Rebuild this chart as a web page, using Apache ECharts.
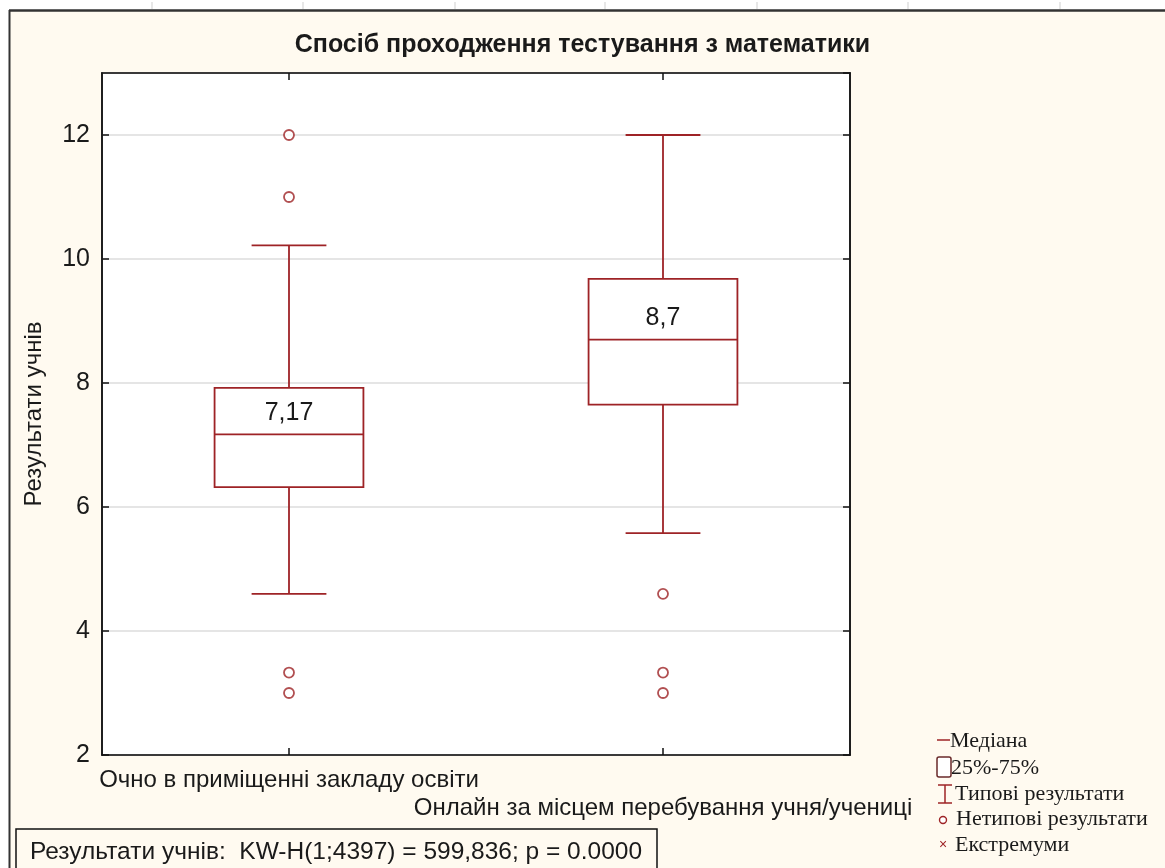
<!DOCTYPE html>
<html>
<head>
<meta charset="utf-8">
<script src="https://cdn.jsdelivr.net/npm/echarts@6/dist/echarts.min.js"></script>
<style>
html,body{margin:0;padding:0;background:#fff;}
#chart{width:1165px;height:868px;}
</style>
</head>
<body>
<div id="chart"></div>
<script>
// ---- data ----
const categories = ['Очно в приміщенні закладу освіти', 'Онлайн за місцем перебування учня/учениці'];
const whiskerLow = [4.6, 5.58];
const q1 = [6.32, 7.65];
const median = [7.17, 8.7];
const q3 = [7.92, 9.68];
const whiskerHigh = [10.22, 12.0];
const outlierCat = [0, 0, 0, 0, 1, 1, 1];
const outlierVal = [12, 11, 3.33, 3, 4.6, 3.33, 3];
const yMin = 2, yMax = 13, yStep = 2;
const titleText = 'Спосіб проходження тестування з математики';
const yName = 'Результати учнів';
const statText = 'Результати учнів:  KW-H(1;4397) = 599,836; p = 0.0000';
const legendLabels = ['Медіана', '25%-75%', 'Типові результати', 'Нетипові результати', 'Екстремуми'];

// ---- styles ----
const RED = '#9E2326';
const TXT = '#1a1a1a';
const CREAM = '#FFFAF0';
const SANS = '"Liberation Sans", Arial, sans-serif';
const SERIF = '"Liberation Serif", "Times New Roman", serif';

const boxData = categories.map((c, i) => [i, whiskerLow[i], q1[i], median[i], q3[i], whiskerHigh[i]]);
const outlierData = outlierCat.map((c, i) => [c, outlierVal[i]]);

const chart = echarts.init(document.getElementById('chart'), null, {renderer: 'canvas'});

// legend graphics
const lx = 937, ly = [741, 768, 794, 819, 845];
const legendGraphics = [];
legendGraphics.push({type: 'line', shape: {x1: lx, y1: ly[0] - 1, x2: lx + 13, y2: ly[0] - 1}, style: {stroke: RED, lineWidth: 1.5}});
legendGraphics.push({type: 'rect', shape: {x: lx, y: ly[1] - 11, width: 14, height: 20, r: 2}, style: {fill: '#fff', stroke: '#6a2a2a', lineWidth: 1.5}});
legendGraphics.push({type: 'line', shape: {x1: lx + 8, y1: ly[2] - 9, x2: lx + 8, y2: ly[2] + 9}, style: {stroke: RED, lineWidth: 1.5}});
legendGraphics.push({type: 'line', shape: {x1: lx + 1, y1: ly[2] - 9, x2: lx + 15, y2: ly[2] - 9}, style: {stroke: RED, lineWidth: 1.5}});
legendGraphics.push({type: 'line', shape: {x1: lx + 1, y1: ly[2] + 9, x2: lx + 15, y2: ly[2] + 9}, style: {stroke: RED, lineWidth: 1.5}});
legendGraphics.push({type: 'circle', shape: {cx: lx + 6, cy: ly[3] + 1, r: 3.5}, style: {fill: '#fff', stroke: RED, lineWidth: 1.4}});
legendGraphics.push({type: 'text', style: {text: '×', x: lx + 6, y: ly[4], align: 'center', verticalAlign: 'middle', font: '14px ' + SANS, fill: RED}});
const textX = [lx + 13, lx + 14, lx + 18, lx + 19, lx + 18];
legendLabels.forEach((t, i) => {
  legendGraphics.push({type: 'text', style: {text: t, x: textX[i], y: ly[i], align: 'left', verticalAlign: 'middle', font: '22px ' + SERIF, fill: TXT}});
});

// ruler ticks at the top
const rulerGraphics = [];
[152, 303, 455, 605, 757, 908, 1060].forEach(x => {
  rulerGraphics.push({type: 'line', shape: {x1: x, y1: 2, x2: x, y2: 9}, style: {stroke: '#cfcfcf', lineWidth: 1}});
});

const option = {
  backgroundColor: '#ffffff',
  animation: false,
  title: {
    text: titleText,
    left: 'center',
    top: 33,
    padding: 0,
    textStyle: {fontFamily: SANS, fontSize: 25, fontWeight: 'bold', color: TXT}
  },
  graphic: [
    {type: 'rect', z: -10, silent: true, shape: {x: 10, y: 11, width: 1160, height: 860}, style: {fill: CREAM}},
    {type: 'line', z: -5, shape: {x1: 9, y1: 10.5, x2: 1165, y2: 10.5}, style: {stroke: '#333', lineWidth: 2.5}},
    {type: 'line', z: -5, shape: {x1: 9.5, y1: 10, x2: 9.5, y2: 868}, style: {stroke: '#333', lineWidth: 2}},
    ...rulerGraphics,
    {type: 'rect', shape: {x: 16, y: 829, width: 641, height: 50}, style: {fill: CREAM, stroke: '#111', lineWidth: 1.5}},
    {type: 'text', style: {text: statText, x: 30, y: 852, align: 'left', verticalAlign: 'middle', font: '24.5px ' + SANS, fill: TXT}},
    ...legendGraphics
  ],
  grid: {
    left: 102, top: 73, width: 748, height: 682,
    show: true, backgroundColor: '#ffffff', borderColor: '#111', borderWidth: 1.5
  },
  xAxis: [{
    type: 'category', data: categories, position: 'bottom',
    axisLine: {show: true, lineStyle: {color: '#111', width: 1.5}},
    axisTick: {show: true, inside: true, length: 7, alignWithLabel: true, lineStyle: {color: '#111', width: 1.5}},
    axisLabel: {
      interval: 0, margin: 11, fontFamily: SANS, fontSize: 24, color: TXT, lineHeight: 28,
      formatter: (v, i) => (i % 2 === 1 ? '\n' + v : v)
    },
    splitLine: {show: false}
  }, {
    type: 'category', data: categories, position: 'top',
    axisLine: {show: true, lineStyle: {color: '#111', width: 1.5}},
    axisTick: {show: true, inside: true, length: 7, alignWithLabel: true, lineStyle: {color: '#111', width: 1.5}},
    axisLabel: {show: false}, splitLine: {show: false}
  }],
  yAxis: [{
    type: 'value', min: yMin, max: yMax, interval: yStep, position: 'left',
    name: yName, nameLocation: 'middle', nameGap: 56, nameRotate: 90,
    nameTextStyle: {fontFamily: SANS, fontSize: 24, color: TXT},
    axisLine: {show: true, lineStyle: {color: '#111', width: 1.5}},
    axisTick: {show: true, inside: true, length: 7, lineStyle: {color: '#111', width: 1.5}},
    axisLabel: {margin: 12, fontFamily: SANS, fontSize: 25, color: TXT, showMaxLabel: false},
    splitLine: {show: true, lineStyle: {color: '#dcdcdc', width: 1.5}}
  }, {
    type: 'value', min: yMin, max: yMax, interval: yStep, position: 'right',
    axisLine: {show: true, lineStyle: {color: '#111', width: 1.5}},
    axisTick: {show: true, inside: true, length: 7, lineStyle: {color: '#111', width: 1.5}},
    axisLabel: {show: false}, splitLine: {show: false}
  }],
  series: [{
    type: 'custom',
    xAxisIndex: 0, yAxisIndex: 0,
    data: boxData,
    encode: {x: 0, y: [1, 2, 3, 4, 5]},
    renderItem: function (params, api) {
      const i = api.value(0);
      const x = api.coord([i, 0])[0];
      const band = api.size([1, 0])[0];
      const bw = band * 0.398, cw = band * 0.2;
      const yLo = api.coord([i, api.value(1)])[1];
      const yQ1 = api.coord([i, api.value(2)])[1];
      const yMed = api.coord([i, api.value(3)])[1];
      const yQ3 = api.coord([i, api.value(4)])[1];
      const yHi = api.coord([i, api.value(5)])[1];
      const st = {stroke: RED, lineWidth: 1.8, fill: null};
      const lbl = String(api.value(3)).replace('.', ',');
      return {
        type: 'group',
        children: [
          {type: 'line', shape: {x1: x, y1: yHi, x2: x, y2: yQ3}, style: st},
          {type: 'line', shape: {x1: x, y1: yQ1, x2: x, y2: yLo}, style: st},
          {type: 'line', shape: {x1: x - cw / 2, y1: yHi, x2: x + cw / 2, y2: yHi}, style: st},
          {type: 'line', shape: {x1: x - cw / 2, y1: yLo, x2: x + cw / 2, y2: yLo}, style: st},
          {type: 'rect', shape: {x: x - bw / 2, y: yQ3, width: bw, height: yQ1 - yQ3}, style: {fill: '#fff', stroke: RED, lineWidth: 1.8}},
          {type: 'line', shape: {x1: x - bw / 2, y1: yMed, x2: x + bw / 2, y2: yMed}, style: st},
          {type: 'text', style: {text: lbl, x: x, y: yMed - 21, align: 'center', verticalAlign: 'middle', font: '25px ' + SANS, fill: TXT}}
        ]
      };
    }
  }, {
    type: 'scatter',
    xAxisIndex: 0, yAxisIndex: 0,
    data: outlierData,
    symbol: 'circle', symbolSize: 10,
    itemStyle: {color: '#fff', borderColor: RED, borderWidth: 1.8}
  }]
};
chart.setOption(option);
</script>
</body>
</html>
